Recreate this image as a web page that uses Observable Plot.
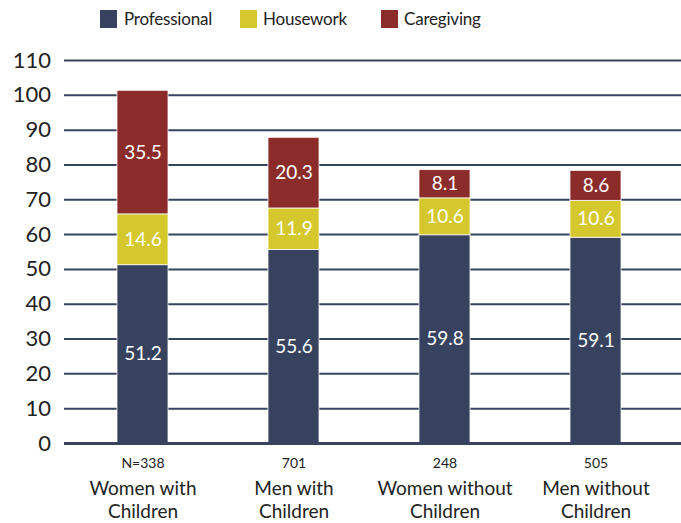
<!DOCTYPE html>
<html>
<head>
<meta charset="utf-8">
<script src="https://cdn.jsdelivr.net/npm/d3@7"></script>
<script src="https://cdn.jsdelivr.net/npm/@observablehq/plot@0.6"></script>
<style>
  body { margin: 0; background: #fff; font-family: Lato, "Open Sans", sans-serif; }
  #legend { position: relative; width: 681px; height: 40px; }
  .sw { position: absolute; top: 10px; width: 17px; height: 18px; }
  .lt { position: absolute; top: 6px; font-size: 17px; color: #222; line-height: 26px; letter-spacing: -0.2px; }
</style>
</head>
<body>
<div id="legend"></div>
<div id="chart"></div>
<script>
const groups = ["Women with\nChildren", "Men with\nChildren", "Women without\nChildren", "Men without\nChildren"];
const sampleSizes = ["N=338", "701", "248", "505"];
const types = ["Professional", "Housework", "Caregiving"];
const colors = ["#37435e", "#d4c82c", "#8b2c2a"];
const professional = [51.2, 55.6, 59.8, 59.1];
const housework = [14.6, 11.9, 10.6, 10.6];
const caregiving = [35.5, 20.3, 8.1, 8.6];
const yTicks = [0, 10, 20, 30, 40, 50, 60, 70, 80, 90, 100, 110];

const series = [professional, housework, caregiving];
const data = [];
types.forEach((t, i) => groups.forEach((g, j) => data.push({group: g, type: t, value: series[i][j]})));
const labels = groups.map((g, j) => ({group: g, n: sampleSizes[j]}));

// legend
const legend = document.getElementById("legend");
const legendPos = [[100, 124], [240, 263], [381, 404]];
types.forEach((t, i) => {
  const s = document.createElement("div");
  s.className = "sw"; s.style.left = legendPos[i][0] + "px"; s.style.background = colors[i];
  const l = document.createElement("div");
  l.className = "lt"; l.style.left = legendPos[i][1] + "px"; l.textContent = t;
  legend.appendChild(s); legend.appendChild(l);
});

const chart = Plot.plot({
  width: 681,
  height: 483,
  marginTop: 20,
  marginBottom: 80,
  marginLeft: 66.5,
  marginRight: 8.5,
  style: {fontFamily: "Lato, 'Open Sans', sans-serif", color: "#222"},
  x: {domain: groups, paddingInner: 0.66, paddingOuter: 0.33, axis: null},
  y: {domain: [0, 110], axis: null},
  color: {domain: types, range: colors},
  marks: [
    Plot.ruleY(yTicks.filter(d => d > 0), {stroke: "#38445e", strokeWidth: 2, insetLeft: -2.5, insetRight: -8.5}),
    Plot.barY(data, {x: "group", y: "value", fill: "type", z: "type", order: types, stroke: "#fff", strokeWidth: 0.75}),
    Plot.ruleY([0], {stroke: "#38445e", strokeWidth: 3, insetLeft: -2.5, insetRight: -8.5}),
    Plot.text(data, Plot.stackY({x: "group", y: "value", z: "type", order: types, text: d => d.value.toFixed(1), fill: "#fff", fontSize: 19})),
    Plot.text(yTicks, {y: d => d, text: d => String(d), frameAnchor: "left", textAnchor: "end", dx: -16, fontSize: 22, fill: "#222"}),
    Plot.text(labels, {x: "group", text: "n", frameAnchor: "bottom", lineAnchor: "middle", dy: 20, fontSize: 14, fill: "#222"}),
    Plot.text(labels, {x: "group", text: "group", frameAnchor: "bottom", lineAnchor: "middle", dy: 55.5, fontSize: 19, lineHeight: 1.2, fill: "#222"})
  ]
});
document.getElementById("chart").appendChild(chart);
</script>
</body>
</html>
